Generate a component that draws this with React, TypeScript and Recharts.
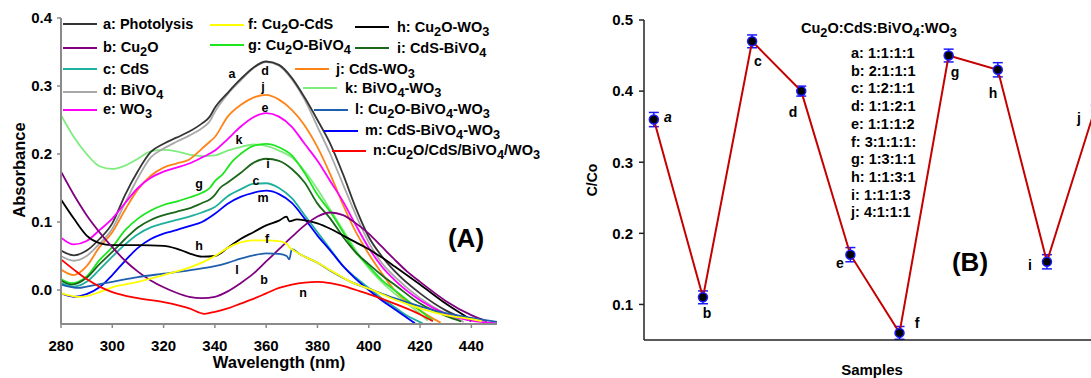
import React from 'react';
import { LineChart, Line, XAxis, YAxis, ErrorBar } from 'recharts';

// ---------- panel A : UV-vis spectra, [wavelength (nm), absorbance] ----------
const photolysis = [[280, 0.058], [285, 0.051], [290, 0.058], [295, 0.075], [300, 0.098], [305, 0.14], [310, 0.175], [315, 0.203], [320, 0.215], [325, 0.224], [330, 0.233], [335, 0.245], [338, 0.255], [340, 0.268], [345, 0.29], [350, 0.31], [355, 0.327], [360, 0.336], [365, 0.331], [370, 0.312], [375, 0.283], [380, 0.25], [385, 0.215], [390, 0.17], [395, 0.12], [400, 0.078], [405, 0.05], [410, 0.028], [420, -0.005], [430, -0.03], [440, -0.046]];
const cu2o = [[280, 0.174], [285, 0.14], [290, 0.11], [295, 0.085], [300, 0.063], [305, 0.043], [310, 0.027], [315, 0.014], [320, 0.004], [325, -0.004], [330, -0.01], [335, -0.012], [340, -0.01], [345, -0.002], [350, 0.01], [355, 0.024], [360, 0.042], [365, 0.06], [370, 0.078], [375, 0.095], [380, 0.108], [385, 0.114], [390, 0.11], [395, 0.098], [400, 0.083], [405, 0.064], [410, 0.045], [415, 0.027], [420, 0.012], [430, -0.016], [440, -0.037], [446, -0.046]];
const cds = [[280, 0.01], [285, 0.005], [290, 0.012], [295, 0.03], [300, 0.049], [305, 0.067], [310, 0.082], [315, 0.092], [320, 0.098], [325, 0.103], [330, 0.108], [335, 0.114], [340, 0.122], [345, 0.138], [350, 0.148], [355, 0.156], [360, 0.157], [365, 0.15], [370, 0.135], [375, 0.11], [380, 0.085], [385, 0.06], [390, 0.035], [395, 0.018], [400, 0.003], [405, -0.012], [410, -0.025], [415, -0.038], [421, -0.049]];
const bivo4 = [[280, 0.05], [285, 0.043], [290, 0.05], [295, 0.068], [300, 0.09], [305, 0.128], [310, 0.165], [315, 0.195], [320, 0.208], [325, 0.218], [330, 0.227], [335, 0.238], [338, 0.248], [340, 0.262], [345, 0.288], [350, 0.308], [355, 0.326], [360, 0.335], [365, 0.33], [370, 0.31], [375, 0.28], [380, 0.24], [385, 0.2], [390, 0.155], [395, 0.11], [400, 0.07], [405, 0.04], [410, 0.02], [420, -0.012], [430, -0.035], [437, -0.047]];
const wo3 = [[280, 0.077], [285, 0.067], [290, 0.072], [295, 0.088], [300, 0.105], [305, 0.128], [310, 0.15], [315, 0.165], [320, 0.174], [325, 0.18], [330, 0.186], [335, 0.195], [340, 0.205], [345, 0.222], [350, 0.24], [355, 0.254], [360, 0.26], [365, 0.255], [370, 0.24], [375, 0.215], [380, 0.19], [385, 0.16], [390, 0.13], [395, 0.095], [400, 0.062], [405, 0.035], [410, 0.015], [420, -0.015], [430, -0.035], [440, -0.045], [450, -0.049]];
const cu2oCds = [[280, -0.005], [287, -0.01], [290, -0.009], [295, -0.003], [300, 0.004], [310, 0.012], [320, 0.022], [330, 0.033], [337, 0.044], [340, 0.05], [345, 0.062], [350, 0.07], [355, 0.073], [360, 0.073], [365, 0.072], [368, 0.068], [369, 0.063], [370, 0.06], [373, 0.053], [380, 0.04], [386, 0.027], [393, 0.012], [400, 0.002], [410, -0.014], [420, -0.027], [430, -0.037], [440, -0.043], [444, -0.046]];
const cu2oBivo4 = [[280, 0.016], [284, 0.01], [290, 0.02], [295, 0.044], [300, 0.063], [305, 0.088], [310, 0.105], [315, 0.117], [320, 0.125], [325, 0.13], [330, 0.136], [335, 0.143], [338, 0.15], [340, 0.16], [343, 0.17], [347, 0.19], [350, 0.2], [355, 0.212], [360, 0.215], [365, 0.21], [370, 0.198], [375, 0.172], [380, 0.14], [385, 0.115], [390, 0.085], [395, 0.055], [400, 0.035], [405, 0.015], [410, 0.0], [420, -0.03], [425, -0.045]];
const cu2oWo3 = [[280, 0.133], [285, 0.105], [290, 0.08], [295, 0.069], [300, 0.066], [310, 0.066], [320, 0.065], [325, 0.061], [330, 0.054], [335, 0.049], [340, 0.05], [345, 0.062], [350, 0.075], [355, 0.085], [360, 0.095], [365, 0.102], [368, 0.108], [369, 0.101], [372, 0.104], [377, 0.101], [380, 0.098], [385, 0.09], [390, 0.08], [395, 0.07], [400, 0.06], [405, 0.048], [410, 0.035], [420, 0.008], [430, -0.02], [440, -0.044]];
const cdsBivo4 = [[280, 0.014], [284, 0.008], [290, 0.018], [295, 0.038], [300, 0.056], [305, 0.075], [310, 0.092], [315, 0.103], [320, 0.11], [325, 0.115], [330, 0.12], [335, 0.128], [338, 0.133], [340, 0.14], [342, 0.15], [345, 0.158], [350, 0.172], [355, 0.187], [360, 0.193], [365, 0.19], [370, 0.178], [375, 0.158], [380, 0.127], [385, 0.105], [390, 0.078], [395, 0.055], [400, 0.038], [405, 0.022], [410, 0.008], [420, -0.02], [430, -0.038], [436, -0.046]];
const cdsWo3 = [[280, 0.03], [285, 0.022], [290, 0.035], [295, 0.063], [300, 0.085], [305, 0.118], [310, 0.148], [315, 0.168], [320, 0.18], [325, 0.186], [330, 0.192], [335, 0.208], [338, 0.218], [340, 0.225], [345, 0.255], [350, 0.272], [355, 0.283], [360, 0.287], [365, 0.28], [370, 0.265], [375, 0.242], [380, 0.21], [385, 0.17], [390, 0.125], [395, 0.085], [400, 0.053], [405, 0.025], [410, 0.0], [420, -0.03], [428, -0.048]];
const bivo4Wo3 = [[280, 0.257], [285, 0.225], [290, 0.2], [295, 0.182], [300, 0.178], [305, 0.183], [310, 0.193], [315, 0.204], [320, 0.206], [325, 0.204], [330, 0.199], [335, 0.197], [340, 0.198], [345, 0.205], [350, 0.21], [355, 0.214], [360, 0.212], [365, 0.205], [370, 0.195], [375, 0.175], [380, 0.148], [385, 0.118], [390, 0.088], [395, 0.058], [400, 0.032], [405, 0.012], [410, -0.005], [420, -0.035], [423, -0.045]];
const cu2oBivo4Wo3 = [[280, 0.008], [287, 0.003], [290, 0.005], [300, 0.012], [310, 0.019], [320, 0.024], [330, 0.029], [340, 0.035], [345, 0.04], [350, 0.046], [355, 0.051], [360, 0.054], [365, 0.053], [368, 0.05], [369, 0.045], [370, 0.06], [373, 0.053], [380, 0.04], [386, 0.026], [393, 0.012], [400, 0.002], [410, -0.012], [420, -0.024], [430, -0.034], [440, -0.041], [450, -0.047]];
const cdsBivo4Wo3 = [[280, -0.005], [285, -0.01], [290, -0.006], [295, 0.004], [300, 0.022], [305, 0.043], [310, 0.062], [315, 0.075], [320, 0.083], [325, 0.088], [330, 0.094], [335, 0.1], [340, 0.112], [345, 0.127], [350, 0.137], [355, 0.143], [360, 0.146], [365, 0.141], [370, 0.128], [375, 0.105], [380, 0.08], [385, 0.058], [390, 0.035], [395, 0.016], [400, 0.0], [405, -0.015], [410, -0.028], [418, -0.049]];
const quaternary = [[280, 0.045], [285, 0.03], [290, 0.016], [295, 0.005], [300, -0.003], [310, -0.012], [320, -0.018], [330, -0.027], [336, -0.035], [340, -0.032], [345, -0.027], [350, -0.02], [355, -0.013], [360, -0.005], [365, 0.003], [370, 0.008], [375, 0.011], [380, 0.012], [385, 0.01], [390, 0.006], [395, 0.0], [400, -0.006], [410, -0.02], [420, -0.036], [425, -0.046]];

const wlTicks = [280, 300, 320, 340, 360, 380, 400, 420, 440];
const absTicks = [0, 0.1, 0.2, 0.3, 0.4];

// id, legend name, data (drawing order)
const spectra = [
  { id: 'k', name: 'BiVO4-WO3', pts: bivo4Wo3 },
  { id: 'd', name: 'BiVO4', pts: bivo4 },
  { id: 'a', name: 'Photolysis', pts: photolysis },
  { id: 'j', name: 'CdS-WO3', pts: cdsWo3 },
  { id: 'e', name: 'WO3', pts: wo3 },
  { id: 'g', name: 'Cu2O-BiVO4', pts: cu2oBivo4 },
  { id: 'i', name: 'CdS-BiVO4', pts: cdsBivo4 },
  { id: 'c', name: 'CdS', pts: cds },
  { id: 'm', name: 'CdS-BiVO4-WO3', pts: cdsBivo4Wo3 },
  { id: 'h', name: 'Cu2O-WO3', pts: cu2oWo3 },
  { id: 'b', name: 'Cu2O', pts: cu2o },
  { id: 'l', name: 'Cu2O-BiVO4-WO3', pts: cu2oBivo4Wo3 },
  { id: 'f', name: 'Cu2O-CdS', pts: cu2oCds },
  { id: 'n', name: 'Cu2O/CdS/BiVO4/WO3', pts: quaternary },
];

const specColor: Record<string, string> = {
  a: '#353535', b: '#800080', c: '#1eb09c', d: '#a8a8a8', e: '#ff00ff', f: '#ffff00', g: '#1ee61e',
  h: '#000000', i: '#1a661a', j: '#ff8418', k: '#7eec7e', l: '#1f5fae', m: '#0000ff', n: '#ff0000',
};

// ---------- panel B : C/Co per sample ----------
const samples = ['a', 'b', 'c', 'd', 'e', 'f', 'g', 'h', 'i', 'j'];
const ccoValues = [0.36, 0.11, 0.47, 0.40, 0.17, 0.06, 0.45, 0.43, 0.16, 0.38];
const ccoErr = [0.01, 0.009, 0.009, 0.007, 0.01, 0.009, 0.009, 0.01, 0.01, 0.01];
const molarRatios = ['1:1:1:1', '2:1:1:1', '1:2:1:1', '1:1:2:1', '1:1:1:2', '3:1:1:1:', '1:3:1:1', '1:1:3:1', '1:1:1:3', '4:1:1:1'];
const ccoTicks = [0.1, 0.2, 0.3, 0.4, 0.5];

const ccoData = samples.map((s, i) => ({ idx: i, name: s, v: ccoValues[i], err: ccoErr[i] }));

// ---------- layout of annotations ----------
const FONT = '"Liberation Sans", Arial, Helvetica, sans-serif';

const legendPos: Record<string, { lx: number; ly: number; tx: number; ty: number }> = {
  a: { lx: 63, ly: 24, tx: 103, ty: 24 },
  b: { lx: 63, ly: 48, tx: 103, ty: 47 },
  c: { lx: 63, ly: 69, tx: 103, ty: 69 },
  d: { lx: 63, ly: 92, tx: 103, ty: 90 },
  e: { lx: 63, ly: 110, tx: 103, ty: 109 },
  f: { lx: 210, ly: 25, tx: 248, ty: 24 },
  g: { lx: 210, ly: 45, tx: 248, ty: 45 },
  h: { lx: 355, ly: 27, tx: 397, ty: 27 },
  i: { lx: 355, ly: 48, tx: 397, ty: 48 },
  j: { lx: 295, ly: 69, tx: 336, ty: 69 },
  k: { lx: 303, ly: 88, tx: 345, ty: 88 },
  l: { lx: 314, ly: 110, tx: 355, ty: 109 },
  m: { lx: 324, ly: 131, tx: 365, ty: 130 },
  n: { lx: 332, ly: 151, tx: 373, ty: 150 },
};

const curveTag = [
  { t: 'a', x: 232, y: 74 }, { t: 'd', x: 265, y: 71 }, { t: 'j', x: 263, y: 87 },
  { t: 'e', x: 265, y: 108 }, { t: 'k', x: 239, y: 140 }, { t: 'i', x: 268, y: 164 },
  { t: 'g', x: 199, y: 184 }, { t: 'c', x: 256, y: 181 }, { t: 'm', x: 263, y: 198 },
  { t: 'h', x: 199, y: 246 }, { t: 'f', x: 267, y: 239 }, { t: 'l', x: 237, y: 270 },
  { t: 'b', x: 264, y: 280 }, { t: 'n', x: 303, y: 293 },
];

const pointTag = [
  { x: 668, y: 117, italic: true }, { x: 707, y: 313 }, { x: 758, y: 61 }, { x: 793, y: 112 },
  { x: 840, y: 263 }, { x: 917, y: 323 }, { x: 955, y: 72 }, { x: 993, y: 93 },
  { x: 1030, y: 265 }, { x: 1079, y: 118 },
];

// chemical formula with subscripted digits
function Chem({ text }: { text: string }) {
  const parts = text.split(/(\d+)/);
  let sub = false;
  return (
    <>
      {parts.map((p, i) => {
        if (/^\d+$/.test(p)) {
          sub = true;
          return (
            <tspan key={i} dy={4} fontSize="88%">
              {p}
            </tspan>
          );
        }
        const dy = sub ? -4 : 0;
        sub = false;
        return (
          <tspan key={i} dy={dy}>
            {p}
          </tspan>
        );
      })}
    </>
  );
}

function Txt({ x, y, size, children, anchor = 'start', italic = false, rotate = 0 }: any) {
  const base = y + size * 0.35;
  return (
    <text
      x={x}
      y={base}
      fontSize={size}
      fontFamily={FONT}
      fontWeight="bold"
      fontStyle={italic ? 'italic' : 'normal'}
      textAnchor={anchor}
      fill="#000"
      transform={rotate ? `rotate(${rotate} ${x} ${y})` : undefined}
    >
      {children}
    </text>
  );
}

const tickStyle = { fill: '#000', fontSize: 15, fontWeight: 'bold', fontFamily: FONT };

export default function App() {
  return (
    <div style={{ position: 'fixed', left: 0, top: 0, width: 1091, height: 378, overflow: 'hidden', background: '#fff' }}>
      {/* panel A */}
      <div style={{ position: 'absolute', left: 0, top: 0 }}>
        <LineChart width={510} height={378} margin={{ top: 18, right: 13, bottom: 0, left: 0 }}>
          <XAxis
            type="number"
            dataKey="x"
            domain={[280, 450]}
            ticks={wlTicks}
            allowDataOverflow
            height={54}
            tick={tickStyle}
            tickSize={4}
            tickMargin={12}
            axisLine={{ stroke: '#8a8a8a', strokeWidth: 2 }}
            tickLine={{ stroke: '#8a8a8a', strokeWidth: 1.5 }}
          />
          <YAxis
            type="number"
            domain={[-0.05, 0.4]}
            ticks={absTicks}
            allowDataOverflow
            width={61}
            tick={tickStyle}
            tickSize={4}
            tickMargin={5}
            tickFormatter={(v: number) => v.toFixed(1)}
            axisLine={{ stroke: '#8a8a8a', strokeWidth: 2 }}
            tickLine={{ stroke: '#8a8a8a', strokeWidth: 1.5 }}
          />
          {spectra.map((s) => (
            <Line
              key={s.id}
              data={s.pts.map(([x, y]) => ({ x, y }))}
              dataKey="y"
              type="monotone"
              stroke={specColor[s.id]}
              strokeWidth={1.8}
              dot={false}
              activeDot={false}
              isAnimationActive={false}
            />
          ))}
        </LineChart>
      </div>

      {/* panel B */}
      <div style={{ position: 'absolute', left: 580, top: 0 }}>
        <LineChart width={525} height={378} data={ccoData} margin={{ top: 20, right: 5, bottom: 0, left: 0 }}>
          <XAxis
            type="number"
            dataKey="idx"
            domain={[-0.2, 9.08]}
            allowDataOverflow
            height={38}
            tick={false}
            tickLine={false}
            axisLine={{ stroke: '#222', strokeWidth: 1.5 }}
          />
          <YAxis
            type="number"
            domain={[0.05, 0.5]}
            ticks={ccoTicks}
            allowDataOverflow
            width={64}
            tick={tickStyle}
            tickSize={5}
            tickMargin={6}
            tickFormatter={(v: number) => v.toFixed(1)}
            axisLine={{ stroke: '#222', strokeWidth: 1.5 }}
            tickLine={{ stroke: '#222', strokeWidth: 1.5 }}
          />
          <Line
            dataKey="v"
            type="linear"
            stroke="#c40000"
            strokeWidth={2}
            dot={{ r: 4.5, fill: '#000', stroke: '#1a1aff', strokeWidth: 1.5 }}
            activeDot={false}
            isAnimationActive={false}
          >
            <ErrorBar dataKey="err" direction="y" width={5} stroke="#1a1aff" strokeWidth={1.5} isAnimationActive={false} />
          </Line>
        </LineChart>
      </div>

      {/* annotations */}
      <svg width={1091} height={378} style={{ position: 'absolute', left: 0, top: 0, pointerEvents: 'none' }}>
        {spectra.map((s) => {
          const p = legendPos[s.id];
          return (
            <g key={s.id}>
              <line x1={p.lx} x2={p.lx + 34} y1={p.ly} y2={p.ly} stroke={specColor[s.id]} strokeWidth={2.2} />
              <Txt x={p.tx} y={p.ty} size={14.5}>
                <Chem text={s.id + (s.id === 'n' ? ':' : ': ') + s.name} />
              </Txt>
            </g>
          );
        })}
        {curveTag.map((c) => (
          <Txt key={c.t} x={c.x} y={c.y} size={12.5} anchor="middle">
            {c.t}
          </Txt>
        ))}
        <text x={466} y={247} fontSize={26} fontFamily={FONT} fontWeight="bold" textAnchor="middle" fill="#000">
          (A)
        </text>
        <Txt x={19} y={170} size={16.5} anchor="middle" rotate={-90}>
          Absorbance
        </Txt>
        <Txt x={279} y={362} size={16.5} anchor="middle">
          Wavelength (nm)
        </Txt>

        <Txt x={592} y={180} size={14} anchor="middle" rotate={-90}>
          C/Co
        </Txt>
        <Txt x={872} y={370} size={15} anchor="middle">
          Samples
        </Txt>
        <Txt x={801} y={28} size={14.5}>
          <Chem text="Cu2O:CdS:BiVO4:WO3" />
        </Txt>
        {samples.map((s, i) => (
          <Txt key={s} x={851} y={53 + i * 17.7} size={14.5}>
            {`${s}: ${molarRatios[i]}`}
          </Txt>
        ))}
        {samples.map((s, i) => (
          <Txt key={'p' + s} x={pointTag[i].x} y={pointTag[i].y} size={14} anchor="middle" italic={!!pointTag[i].italic}>
            {s}
          </Txt>
        ))}
        <text x={970} y={271} fontSize={26} fontFamily={FONT} fontWeight="bold" textAnchor="middle" fill="#000">
          (B)
        </text>
      </svg>
    </div>
  );
}
